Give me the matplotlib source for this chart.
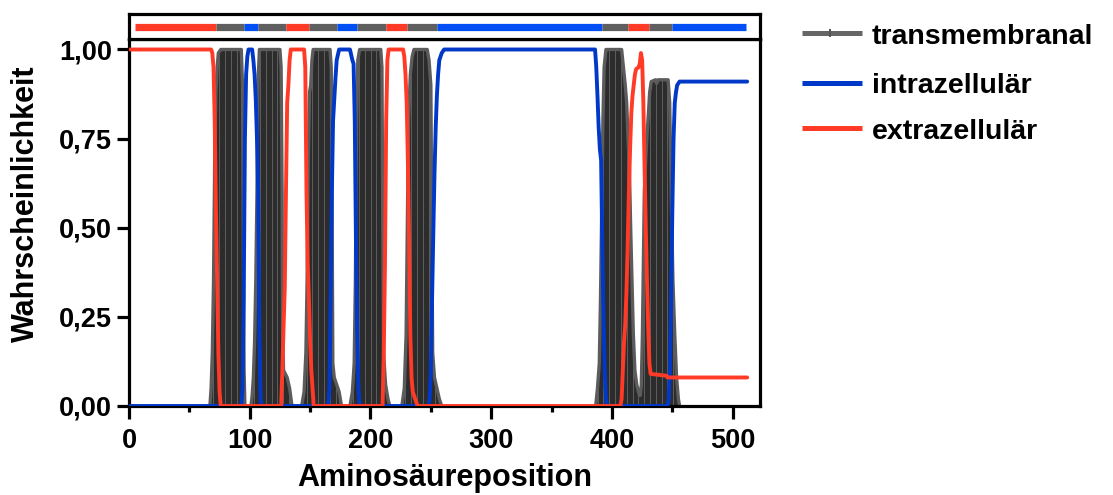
import math
import numpy as np
import matplotlib
matplotlib.use("Agg")
import matplotlib.pyplot as plt
from matplotlib.patches import Polygon
from matplotlib.collections import LineCollection
from matplotlib.lines import Line2D
from matplotlib.ticker import MultipleLocator, FixedLocator

plt.rcParams["font.family"] = ["Liberation Sans", "DejaVu Sans"]
plt.rcParams["font.weight"] = "bold"

# ---------------------------------------------------------------- data
seq_length = 512

# intracellular probability (polyline vertices: residue, probability)
intra_pos = [1, 93, 94, 95, 96, 97, 98, 99, 102, 103, 104, 105, 106, 107, 108, 109, 110,
             165, 166, 167, 168, 169, 170, 171, 172, 174, 183, 185, 186, 187, 188, 189, 190, 191,
             248, 249, 250, 251, 252, 253, 254, 255, 256, 257, 259, 261, 386, 387, 388, 389,
             390, 391, 392, 393, 394, 395, 396,
             446, 447, 448, 449, 450, 451, 452, 453, 454, 456, 512]
intra_prob = [0, 0, 0.05, 0.3, 0.75, 0.93, 0.98, 1.0, 1.0, 0.97, 0.93, 0.86, 0.75, 0.6, 0.2, 0.02, 0,
              0, 0.05, 0.3, 0.6, 0.8, 0.86, 0.92, 0.97, 1.0, 1.0, 0.97, 0.96, 0.8, 0.45, 0.2, 0.05, 0,
              0, 0.02, 0.1, 0.3, 0.48, 0.65, 0.78, 0.87, 0.93, 0.97, 0.99, 1.0, 1.0, 0.95, 0.87, 0.78,
              0.72, 0.69, 0.45, 0.25, 0.1, 0.02, 0,
              0, 0.02, 0.1, 0.3, 0.55, 0.75, 0.85, 0.88, 0.9, 0.91, 0.91]

# extracellular probability
extra_pos = [1, 68, 69, 70, 71, 72, 73, 74, 75, 76,
             126, 127, 128, 129, 130, 131, 132, 133, 134, 145, 146, 147, 148, 149, 150, 151, 152, 153,
             210, 211, 212, 213, 214, 215, 227, 228, 229, 230, 231, 232, 233, 234, 235, 237, 239,
             407, 408, 409, 410, 411, 412, 413, 414, 415, 416, 417, 418, 419, 420, 422, 423, 424,
             425, 426, 427, 428, 429, 430, 431, 432, 445, 446, 512]
extra_prob = [1.0, 1.0, 0.99, 0.95, 0.8, 0.55, 0.35, 0.15, 0.04, 0,
              0, 0.1, 0.22, 0.33, 0.6, 0.85, 0.9, 0.97, 1.0, 1.0, 0.95, 0.6, 0.4, 0.3, 0.18, 0.1, 0.05, 0,
              0, 0.15, 0.4, 0.8, 0.97, 1.0, 1.0, 0.98, 0.93, 0.85, 0.68, 0.45, 0.2, 0.08, 0.04, 0.02, 0,
              0, 0.02, 0.1, 0.18, 0.23, 0.32, 0.45, 0.6, 0.72, 0.82, 0.87, 0.9, 0.93, 0.945, 0.95, 0.96, 0.99,
              0.97, 0.85, 0.67, 0.5, 0.35, 0.22, 0.12, 0.09, 0.085, 0.08, 0.08]

# transmembrane probability, one vertex list per helix region
tm_helices = [
    [(67, 0), (68, 0.05), (69, 0.15), (70, 0.35), (71, 0.7), (72, 0.88), (73, 0.95), (74, 0.99),
     (76, 1.0), (93, 1.0), (94, 0.9), (94.6, 0.5), (95.3, 0.1), (96, 0)],
    [(101, 0), (102, 0.03), (103, 0.08), (104, 0.18), (105, 0.35), (106, 0.6), (106.8, 0.9),
     (108, 1.0), (125, 1.0), (126, 0.95), (126.8, 0.6), (127.2, 0.2), (128, 0.1), (131, 0.08),
     (133, 0.05), (135, 0)],
    [(143, 0), (145, 0.04), (146.5, 0.15), (147.5, 0.35), (148.5, 0.7), (149.5, 0.88), (150.5, 0.9),
     (151.5, 0.97), (152.5, 1.0), (166.5, 1.0), (167.5, 0.95), (168.3, 0.5), (168.8, 0.12),
     (170, 0.08), (172, 0.06), (174, 0.04), (176, 0)],
    [(183, 0), (185, 0.04), (186.5, 0.12), (187.5, 0.35), (188.5, 0.8), (189.5, 0.97), (191, 1.0),
     (208.5, 1.0), (209.5, 0.95), (210.2, 0.5), (210.8, 0.15), (212.5, 0.06), (214.5, 0.02), (216, 0)],
    [(226, 0), (228, 0.05), (229.5, 0.2), (230.5, 0.5), (231.5, 0.8), (233, 0.93), (234.5, 0.98),
     (236, 1.0), (247, 1.0), (248.5, 0.97), (250, 0.9), (250.8, 0.5), (251.5, 0.15), (253, 0.08),
     (255, 0.05), (257, 0.02), (259, 0)],
    [(386.5, 0), (388, 0.05), (389.5, 0.12), (390.5, 0.3), (391.5, 0.55), (392.5, 0.8), (393.5, 0.95),
     (395, 1.0), (408, 1.0), (409.5, 0.95), (411, 0.9), (412.2, 0.85), (413.3, 0.75), (414.4, 0.67),
     (415.5, 0.5), (416.3, 0.39), (417.7, 0.2), (419, 0.1), (420.5, 0.06), (422.7, 0.03),
     (423.5, 0.03), (424.3, 0.06), (425.2, 0.2), (426, 0.4), (426.8, 0.6), (427.8, 0.68), (429, 0.76),
     (430.2, 0.82), (431.2, 0.88), (432.5, 0.91), (436, 0.915), (437, 0.905), (438, 0.915),
     (446.5, 0.915), (447.8, 0.85), (449.2, 0.57), (450.5, 0.35), (452, 0.2), (453.5, 0.08),
     (455, 0.02), (456, 0)],
]

# predicted topology (start, end, class)
topology = [
    (5, 72, "extra"), (72, 95, "tm"), (95, 107, "intra"), (107, 130, "tm"), (130, 149, "extra"),
    (149, 172, "tm"), (172, 189, "intra"), (189, 213, "tm"), (213, 230, "extra"), (230, 255, "tm"),
    (255, 392, "intra"), (392, 413, "tm"), (413, 431, "extra"), (431, 450, "tm"), (450, 511, "intra"),
]

legend_labels = ["transmembranal", "intrazellulär", "extrazellulär"]
x_ticks = [0, 100, 200, 300, 400, 500]
y_ticks = [0.0, 0.25, 0.5, 0.75, 1.0]
y_tick_labels = ["0,00", "0,25", "0,50", "0,75", "1,00"]

# ---------------------------------------------------------------- style
RED = "#ff3a26"
BLUE = "#0038c8"
BAR_BLUE = "#0050f5"
TM_GRAY = "#5c5c5c"
STRIPE = "#1e1e1e"
BAR_GRAY = "#5f5f5f"
SPINE_W = 2.3
LINE_W = 2.8
bar_colors = {"extra": RED, "tm": BAR_GRAY, "intra": BAR_BLUE}

W, H = 1113, 495
fig = plt.figure(figsize=(W / 100, H / 100), dpi=100)

x0, x1 = 129, 760
y_bot, y_mid, y_top = 406, 39.3, 14.3
ax = fig.add_axes([x0 / W, 1 - y_bot / H, (x1 - x0) / W, (y_bot - y_mid) / H])
axt = fig.add_axes([x0 / W, 1 - y_mid / H, (x1 - x0) / W, (y_mid - y_top) / H])

xmax = 522.6
ax.set_xlim(0, xmax)
ax.set_ylim(0, 1.0286)

# transmembrane regions: grey area with fine residue stripes
for helix in tm_helices:
    pos = [p for p, _ in helix]
    prob = [v for _, v in helix]
    poly = Polygon(list(zip(pos, prob)) + [(pos[-1], 0), (pos[0], 0)], closed=True,
                   facecolor=TM_GRAY, edgecolor="none", zorder=2)
    ax.add_patch(poly)
    xs = np.arange(math.ceil(pos[0]), math.floor(pos[-1]) + 1)
    lc = LineCollection([[(x, 0), (x, 1.03)] for x in xs], colors=STRIPE,
                        linewidths=0.55, zorder=2.1)
    ax.add_collection(lc)
    lc.set_clip_path(poly)
    ax.plot(pos, prob, color=TM_GRAY, lw=2.4, solid_joinstyle="round",
            solid_capstyle="round", zorder=2.2)

ax.plot(intra_pos, intra_prob, color=BLUE, lw=LINE_W, solid_joinstyle="round",
        solid_capstyle="round", zorder=3)
ax.plot(extra_pos, extra_prob, color=RED, lw=LINE_W, solid_joinstyle="round",
        solid_capstyle="round", zorder=3.1)

for sp in ax.spines.values():
    sp.set_linewidth(SPINE_W)
    sp.set_zorder(2.5)

ax.xaxis.set_major_locator(FixedLocator(x_ticks))
ax.xaxis.set_minor_locator(MultipleLocator(50))
ax.set_yticks(y_ticks)
ax.set_yticklabels(y_tick_labels)
ax.tick_params(axis="both", which="major", direction="out", length=9, width=SPINE_W,
               labelsize=19.5)
ax.tick_params(axis="x", which="major", pad=7)
ax.tick_params(axis="y", which="major", pad=3)
ax.tick_params(axis="x", which="minor", direction="out", length=4, width=SPINE_W)
ax.tick_params(axis="y", which="minor", left=False)
ax.tick_params(top=False, right=False)
for lab in ax.get_xticklabels() + ax.get_yticklabels():
    lab.set_fontweight("bold")

# topology strip above the plot
axt.set_xlim(0, xmax)
axt.set_ylim(0, 1)
for start, end, kind in topology:
    axt.plot([start, end], [0.5, 0.5], color=bar_colors[kind], lw=5.2, solid_capstyle="butt")
axt.set_xticks([])
axt.set_yticks([])
for sp in axt.spines.values():
    sp.set_linewidth(SPINE_W)

# axis titles
fig.text(444.5 / W, 1 - 478 / H, "Aminosäureposition", ha="center", va="center",
         fontsize=22, fontweight="bold")
fig.text(26 / W, 1 - 204 / H, "Wahrscheinlichkeit", ha="center", va="center",
         rotation=90, fontsize=22, fontweight="bold")

# legend on the right
legend_colors = ["#666666", BLUE, RED]
legend_line_y = [33.3, 82.7, 128.3]
for label, col, ly in zip(legend_labels, legend_colors, legend_line_y):
    yf = 1 - ly / H
    fig.add_artist(Line2D([802 / W, 862 / W], [yf, yf], transform=fig.transFigure,
                          color=col, lw=3.6, solid_capstyle="butt"))
    fig.text(872 / W, 1 - (ly + 10.5) / H, label, ha="left", va="baseline",
             fontsize=20.5, fontweight="bold")
fig.add_artist(Line2D([830 / W], [1 - legend_line_y[0] / H], transform=fig.transFigure,
                      color="#555555", marker="|", markersize=6, markeredgewidth=1.5))

fig.savefig("out.png", dpi=100)
